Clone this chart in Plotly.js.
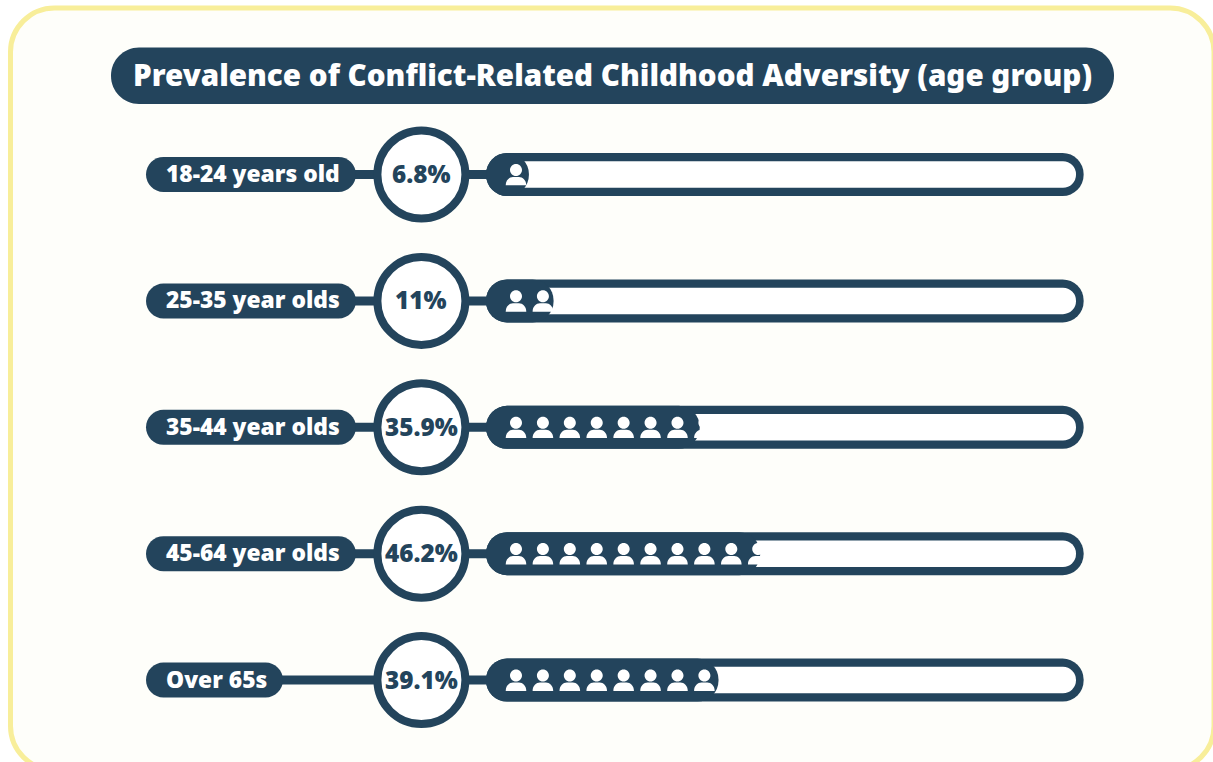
<!DOCTYPE html>
<html>
<head>
<meta charset="utf-8">
<script src="https://cdn.plot.ly/plotly-3.0.1.min.js"></script>
<style>html,body{margin:0;padding:0;background:#fff}#chart{width:1213px;height:762px}</style>
</head>
<body>
<div id="chart"></div>
<script>
const titleText = 'Prevalence of Conflict-Related Childhood Adversity (age group)';
const categories = ['18-24 years old', '25-35 year olds', '35-44 year olds', '45-64 year olds', 'Over 65s'];
const values = [6.8, 11, 35.9, 46.2, 39.1];
const iconCounts = [1, 2, 8, 10, 8];
const pillRight = [356, 356, 356, 356, 283];

const W = 1213, H = 762;
const NAVY = '#23445C', CARD = '#FEFEFA', YELLOW = '#F8EE9A';
const FONT = '"Noto Sans", "Open Sans", sans-serif';
const X0PX = 489, XSCALE = 5.87;
const xv = p => (p - X0PX) / XSCALE;
const Y0PX = 174.5, YSCALE = 126.4;
const K = 0.5523;

function rr(x0, y0, x1, y1, r) {
  const c = r * (1 - K);
  return `M ${x0 + r} ${y0} L ${x1 - r} ${y0} C ${x1 - c} ${y0} ${x1} ${y0 - c} ${x1} ${y0 - r} L ${x1} ${y1 + r} C ${x1} ${y1 + c} ${x1 - c} ${y1} ${x1 - r} ${y1} L ${x0 + r} ${y1} C ${x0 + c} ${y1} ${x0} ${y1 + c} ${x0} ${y1 + r} L ${x0} ${y0 - r} C ${x0} ${y0 - c} ${x0 + c} ${y0} ${x0 + r} ${y0} Z`;
}
const PERSON = rr(-6, 10.6, 6, -1.4, 6) + ' ' +
  'M -10.3 -10.8 C -10.3 -5.5 -6.5 -2.4 -3 -2.4 L 3 -2.4 C 6.5 -2.4 10.3 -5.5 10.3 -10.8 Z';

const shapes = [];
shapes.push({type:'path', xref:'paper', yref:'paper', xsizemode:'pixel', ysizemode:'pixel', xanchor:0, yanchor:1, layer:'below',
  path: rr(10.5, -8, 1214, -770, 44), fillcolor: CARD, line:{color:YELLOW, width:5}});
shapes.push({type:'path', xref:'paper', yref:'paper', xsizemode:'pixel', ysizemode:'pixel', xanchor:0, yanchor:1, layer:'below',
  path: rr(111, -47.5, 1114, -104, 28), fillcolor: NAVY, line:{width:0}});

categories.forEach((c, i) => {
  shapes.push({type:'line', xref:'x', yref:'y', x0: xv(pillRight[i] - 10), x1: xv(500), y0: c, y1: c, layer:'below', line:{color:NAVY, width:9}});
  shapes.push({type:'path', xref:'x', yref:'y', xsizemode:'pixel', ysizemode:'pixel', xanchor:0, yanchor:c, layer:'below',
    path: rr(146 - X0PX, 17.5, pillRight[i] - X0PX, -17.5, 17.5), fillcolor: NAVY, line:{width:0}});
  for (let k = 0; k < iconCounts[i]; k++) {
    shapes.push({type:'path', xref:'x', yref:'y', xsizemode:'pixel', ysizemode:'pixel', xanchor: 4.6 + k * 4.585, yanchor:c, layer:'above',
      path: PERSON, fillcolor:'#FFFFFF', line:{width:0}});
  }
});

const labelNotes = categories.map(c => ({
  xref:'x', yref:'y', x: xv(163.5), y: c, xanchor:'left', yanchor:'middle', showarrow:false, text:c, yshift:1,
  font:{family:FONT, size:22.8, color:'#FFFFFF', weight:900}
}));
const valueNotes = categories.map((c, i) => ({
  xref:'x', yref:'y', x: xv(421.4), y: c, xanchor:'center', yanchor:'middle', showarrow:false, text: values[i] + '%', yshift:1,
  font:{family:FONT, size:24.3, color:NAVY, weight:900}
}));

const TRACK_START = -0.5, TRACK_END = 101.3, INNER_START = 1, INNER_END = 100;
const base = {type:'bar', orientation:'h', y:categories, hoverinfo:'skip', textposition:'none', showlegend:false};
const traces = [
  Object.assign({}, base, {name:'track', x:categories.map(() => TRACK_END - TRACK_START), base:TRACK_START, width:0.34,
    marker:{color:NAVY, cornerradius:21.5, line:{width:0}}}),
  Object.assign({}, base, {name:'inner', x:categories.map(() => INNER_END - INNER_START), base:INNER_START, width:0.21,
    marker:{color:'#FFFFFF', cornerradius:13, line:{width:0}}}),
  Object.assign({}, base, {name:'prevalence', x:values.map(v => v - TRACK_START), base:TRACK_START, width:0.34,
    marker:{color:NAVY, cornerradius:21.5, line:{width:0}}}),
  {type:'scatter', mode:'markers', name:'value', x:categories.map(() => xv(421.4)), y:categories, hoverinfo:'skip', showlegend:false,
    marker:{symbol:'circle', size:88, color:'#FFFFFF', line:{color:NAVY, width:8}}}
];

const layout = {
  width:W, height:H, autosize:false, margin:{l:0,r:0,t:0,b:0,pad:0},
  paper_bgcolor:'#FFFFFF', plot_bgcolor:'rgba(0,0,0,0)',
  title:{text:titleText, x:612.5/W, xanchor:'center', y:1-75.5/H, yanchor:'middle', font:{family:FONT, size:29.6, color:'#FFFFFF', weight:900}},
  barmode:'overlay', showlegend:false, shapes, annotations: labelNotes.concat(valueNotes),
  xaxis:{domain:[0,1], range:[xv(0), xv(W)], visible:false, fixedrange:true},
  yaxis:{domain:[0,1], type:'category', categoryorder:'array', categoryarray:categories,
    range:[(H - Y0PX)/YSCALE, -Y0PX/YSCALE], visible:false, fixedrange:true}
};
Plotly.newPlot('chart', traces, layout, {displayModeBar:false, responsive:false});
</script>
</body>
</html>
